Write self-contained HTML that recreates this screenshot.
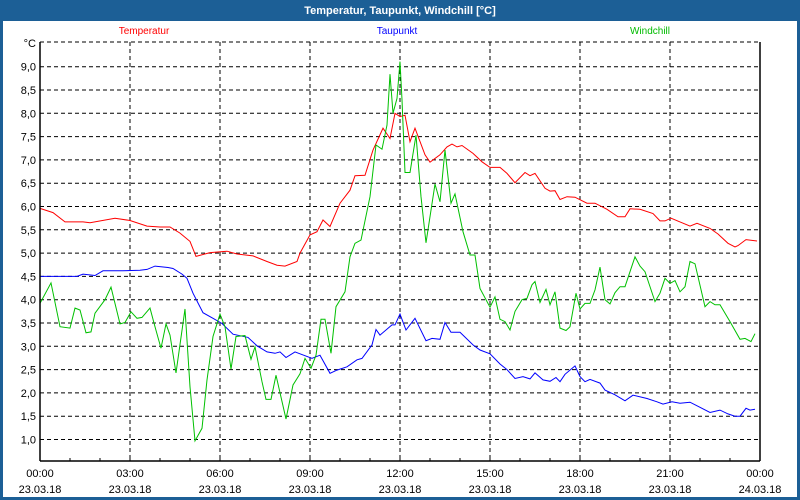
<!DOCTYPE html>
<html><head><meta charset="utf-8"><style>
html,body{margin:0;padding:0;width:800px;height:500px;overflow:hidden;background:#1c5f96;}
#win{position:absolute;left:0;top:0;width:800px;height:500px;}
svg{position:absolute;left:0;top:0;}
text{font-family:"Liberation Sans",sans-serif;}
</style></head><body>
<div id="win">
<svg id="chart" width="800" height="500">
<rect x="0" y="0" width="800" height="500" fill="#1c5f96"/>
<rect x="3" y="21" width="794" height="476" fill="#ffffff"/>
<text x="400" y="14" text-anchor="middle" font-size="11" font-weight="bold" fill="#ffffff">Temperatur, Taupunkt, Windchill [°C]</text>
<text x="144" y="34" text-anchor="middle" font-size="10" fill="#ff0000">Temperatur</text>
<text x="397" y="34" text-anchor="middle" font-size="10" fill="#0000ff">Taupunkt</text>
<text x="650" y="34" text-anchor="middle" font-size="10" fill="#00bb00">Windchill</text>
<text x="36" y="47" text-anchor="end" font-size="11" fill="#000">°C</text>
<g id="grid"></g><g id="series"></g><g id="axes"></g>
</svg></div>
<script>
const yTicks=[1.0,1.5,2.0,2.5,3.0,3.5,4.0,4.5,5.0,5.5,6.0,6.5,7.0,7.5,8.0,8.5,9.0];
const xTickMinutes=[0,180,360,540,720,900,1080,1260,1440];
const xTickTimes=["00:00","03:00","06:00","09:00","12:00","15:00","18:00","21:00","00:00"];
const xTickDates=["23.03.18","23.03.18","23.03.18","23.03.18","23.03.18","23.03.18","23.03.18","23.03.18","24.03.18"];
const tempMin=[0,26,50,86,100,150,180,214,240,260,280,300,312,340,374,394,426,454,474,490,514,520,540,554,566,580,600,620,630,650,666,686,700,710,720,730,740,750,770,780,800,814,824,834,844,866,884,900,920,934,950,970,980,990,1010,1020,1030,1040,1054,1070,1094,1110,1134,1156,1170,1180,1200,1226,1240,1250,1262,1280,1300,1314,1340,1356,1376,1390,1396,1412,1434];
const tempVal=[5.96,5.87,5.67,5.67,5.65,5.75,5.70,5.58,5.56,5.56,5.43,5.25,4.93,5.01,5.04,4.98,4.94,4.82,4.74,4.72,4.82,5.0,5.39,5.46,5.71,5.57,6.07,6.35,6.66,6.67,7.21,7.68,7.46,8.0,7.93,7.96,7.39,7.68,7.11,6.95,7.11,7.28,7.34,7.28,7.31,7.14,6.96,6.84,6.84,6.71,6.51,6.73,6.66,6.71,6.39,6.33,6.34,6.15,6.21,6.20,6.07,6.07,5.94,5.78,5.78,5.95,5.94,5.85,5.69,5.69,5.75,5.67,5.58,5.64,5.53,5.41,5.21,5.13,5.16,5.29,5.26];
const dewMin=[0,74,86,110,126,166,200,214,230,256,266,284,294,306,326,346,364,386,416,434,454,470,480,492,510,520,544,560,580,594,614,634,644,664,672,680,704,710,720,732,750,772,784,800,810,822,840,866,880,900,920,934,950,966,980,990,1006,1020,1032,1040,1050,1070,1080,1090,1100,1120,1130,1150,1170,1186,1214,1234,1246,1264,1280,1300,1320,1340,1360,1376,1390,1400,1412,1420,1430];
const dewVal=[4.5,4.5,4.55,4.52,4.62,4.62,4.63,4.65,4.72,4.69,4.67,4.55,4.46,4.14,3.72,3.60,3.49,3.26,3.19,3.01,2.88,2.85,2.88,2.76,2.88,2.84,2.74,2.81,2.42,2.49,2.56,2.71,2.74,3.03,3.36,3.24,3.46,3.46,3.69,3.35,3.60,3.12,3.17,3.15,3.51,3.30,3.30,3.03,2.92,2.84,2.62,2.50,2.31,2.35,2.30,2.43,2.28,2.25,2.33,2.24,2.40,2.58,2.35,2.24,2.29,2.21,2.06,1.96,1.83,1.95,1.88,1.81,1.76,1.81,1.78,1.80,1.69,1.58,1.63,1.55,1.50,1.50,1.67,1.63,1.65];
const windMin=[0,22,40,60,70,80,92,102,110,130,142,160,170,182,194,204,220,230,242,252,260,272,290,300,310,324,334,346,360,370,382,392,410,422,430,444,452,462,472,492,506,520,530,542,552,562,570,582,592,610,620,630,642,660,672,684,694,700,706,714,720,724,730,740,752,762,772,790,800,810,822,830,846,860,870,880,900,910,920,930,940,950,964,974,984,990,1000,1012,1020,1030,1040,1052,1060,1072,1080,1090,1100,1110,1120,1130,1140,1150,1160,1170,1180,1190,1200,1210,1230,1240,1250,1260,1270,1280,1290,1300,1310,1330,1340,1350,1360,1380,1400,1410,1422,1430];
const windVal=[3.92,4.36,3.42,3.39,3.82,3.78,3.29,3.31,3.71,4.0,4.27,3.48,3.51,3.74,3.60,3.62,3.82,3.42,2.96,3.48,3.24,2.43,3.80,2.13,0.97,1.24,2.28,3.21,3.69,3.42,2.51,3.21,3.23,2.72,2.99,2.24,1.86,1.86,2.38,1.44,2.17,2.41,2.74,2.53,2.81,3.58,3.58,2.85,3.85,4.17,4.92,5.21,5.28,6.21,7.32,7.23,7.75,8.84,8.0,8.32,9.11,8.29,6.73,6.73,7.53,6.21,5.22,6.48,6.10,7.21,6.07,6.27,5.46,4.96,4.96,4.24,3.84,4.06,3.58,3.53,3.35,3.75,4.0,4.03,4.32,4.39,3.94,4.22,3.89,4.17,3.39,3.34,3.42,4.14,3.80,3.92,3.92,4.21,4.70,4.0,3.91,4.15,4.28,4.28,4.60,4.92,4.72,4.60,3.96,4.14,4.46,4.35,4.41,4.17,4.28,4.82,4.77,3.85,3.96,3.89,3.89,3.53,3.15,3.17,3.10,3.27];

const L=40,R=760,T=42,B=461;
const xScale=m=>L+(R-L)*m/1440;
const yScale=v=>66.7+(9-v)*46.6;
const NS="http://www.w3.org/2000/svg";
function mk(tag,parent){const e=document.createElementNS(NS,tag);parent.appendChild(e);return e;}
const grid=document.getElementById('grid'),axes=document.getElementById('axes'),series=document.getElementById('series');

yTicks.forEach(v=>{
  const y=yScale(v);
  const ln=mk('line',grid);
  
  
  ln.setAttribute('x1',L);ln.setAttribute('x2',R);ln.setAttribute('y1',y);ln.setAttribute('y2',y);
  ln.setAttribute('stroke','#000');ln.setAttribute('stroke-dasharray','4,3');
  const t=mk('text',axes);
  
  
  t.setAttribute('x',36);t.setAttribute('y',y+4);t.setAttribute('text-anchor','end');t.setAttribute('font-size','11');
  t.textContent=v.toFixed(1).replace('.',',');
});
const topLine=mk('line',grid);


topLine.setAttribute('x1',L);topLine.setAttribute('x2',R);topLine.setAttribute('y1',T);topLine.setAttribute('y2',T);
topLine.setAttribute('stroke','#000');topLine.setAttribute('stroke-dasharray','4,3');

xTickMinutes.forEach((m,i)=>{
  const x=xScale(m);
  if(i>0&&i<xTickMinutes.length-1){
    const ln=mk('line',grid);
    
    
    ln.setAttribute('x1',x);ln.setAttribute('x2',x);ln.setAttribute('y1',T);ln.setAttribute('y2',B);
    ln.setAttribute('stroke','#000');ln.setAttribute('stroke-dasharray','4,3');
  }
  const t1=mk('text',axes);
  
  
  t1.setAttribute('x',x);t1.setAttribute('y',477);t1.setAttribute('text-anchor','middle');t1.setAttribute('font-size','11');
  t1.textContent=xTickTimes[i];
  const t2=mk('text',axes);
  
  
  t2.setAttribute('x',x);t2.setAttribute('y',493);t2.setAttribute('text-anchor','middle');t2.setAttribute('font-size','11');
  t2.textContent=xTickDates[i];
});
for(let h=0;h<=24;h++){
  const x=xScale(h*60);
  const tk=mk('line',axes);
  
  
  tk.setAttribute('x1',x);tk.setAttribute('x2',x);tk.setAttribute('y1',B-3);tk.setAttribute('y2',B);tk.setAttribute('stroke','#000');
}
[[L,T,L,B,'y-axis-line'],[L,B,R,B,'x-axis-line'],[R,T,R,B,'right-border']].forEach(a=>{
  const ln=mk('line',axes);
  
  
  ln.setAttribute('x1',a[0]);ln.setAttribute('y1',a[1]);ln.setAttribute('x2',a[2]);ln.setAttribute('y2',a[3]);
  ln.setAttribute('stroke','#000');ln.setAttribute('stroke-width','1.5');
});
function drawSeries(mins,vals,color,name){
  const n=Math.min(mins.length,vals.length);
  const pts=[];
  for(let i=0;i<n;i++){pts.push(xScale(mins[i]).toFixed(1)+','+yScale(vals[i]).toFixed(1));}
  const p=mk('polyline',series);
  
  
  p.setAttribute('points',pts.join(' '));
  p.setAttribute('fill','none');p.setAttribute('stroke',color);p.setAttribute('stroke-width','1');
}
drawSeries(dewMin,dewVal,'#0000ff','taupunkt-line');
drawSeries(tempMin,tempVal,'#ff0000','temperatur-line');
drawSeries(windMin,windVal,'#00c000','windchill-line');
</script>
</body></html>
